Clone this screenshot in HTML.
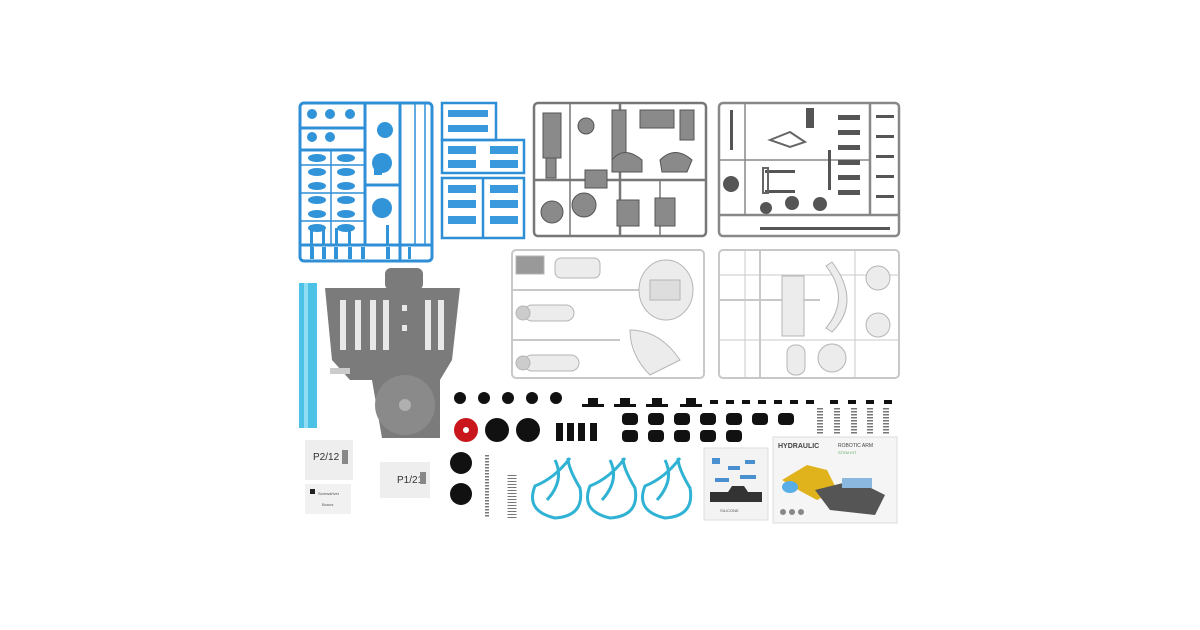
<!DOCTYPE html>
<html><head><meta charset="utf-8"><style>
html,body{margin:0;padding:0;background:#fff;width:1200px;height:630px;overflow:hidden}
svg{display:block}
text{font-family:"Liberation Sans",sans-serif}
</style></head><body>
<svg width="1200" height="630" viewBox="0 0 1200 630" xmlns="http://www.w3.org/2000/svg">
<rect width="1200" height="630" fill="#fff"/>
<!-- Blue sprue 1 -->
<g stroke="#2f8fd6" fill="none" stroke-width="3">
<rect x="300" y="103" width="132" height="158" rx="4"/>
<line x1="300" y1="150" x2="365" y2="150"/><line x1="300" y1="245" x2="432" y2="245"/>
<line x1="365" y1="103" x2="365" y2="245"/><line x1="400" y1="103" x2="400" y2="261"/>
<line x1="365" y1="185" x2="400" y2="185"/><line x1="300" y1="128" x2="365" y2="128"/>
</g>
<g stroke="#2f8fd6" stroke-width="1.5" fill="none">
<line x1="415" y1="103" x2="415" y2="245"/><line x1="425" y1="103" x2="425" y2="245"/>
<line x1="331" y1="150" x2="331" y2="245"/><line x1="300" y1="165" x2="365" y2="165"/><line x1="300" y1="193" x2="365" y2="193"/><line x1="300" y1="221" x2="365" y2="221"/>
</g>
<g fill="#3193d8">
<circle cx="312" cy="114" r="5"/><circle cx="330" cy="114" r="5"/><circle cx="312" cy="137" r="5"/><circle cx="330" cy="137" r="5"/>
<circle cx="350" cy="114" r="5"/><circle cx="385" cy="130" r="8"/>
<circle cx="382" cy="163" r="10"/><circle cx="382" cy="208" r="10"/><rect x="374" y="165" width="8" height="10"/>
<ellipse cx="317" cy="158" rx="9" ry="4"/><ellipse cx="346" cy="158" rx="9" ry="4"/>
<ellipse cx="317" cy="172" rx="9" ry="4"/><ellipse cx="346" cy="172" rx="9" ry="4"/>
<ellipse cx="317" cy="186" rx="9" ry="4"/><ellipse cx="346" cy="186" rx="9" ry="4"/>
<ellipse cx="317" cy="200" rx="9" ry="4"/><ellipse cx="346" cy="200" rx="9" ry="4"/>
<ellipse cx="317" cy="214" rx="9" ry="4"/><ellipse cx="346" cy="214" rx="9" ry="4"/>
<ellipse cx="317" cy="228" rx="9" ry="4"/><ellipse cx="346" cy="228" rx="9" ry="4"/>
<rect x="310" y="247" width="4" height="12"/><rect x="322" y="247" width="4" height="12"/><rect x="334" y="247" width="4" height="12"/><rect x="348" y="247" width="4" height="12"/><rect x="361" y="247" width="4" height="12"/><rect x="386" y="247" width="4" height="12"/><rect x="408" y="247" width="3" height="12"/>
<rect x="310" y="225" width="3" height="22"/><rect x="322" y="228" width="3" height="18"/><rect x="335" y="228" width="3" height="18"/><rect x="348" y="228" width="3" height="18"/><rect x="386" y="225" width="3" height="20"/>
</g>
<!-- Blue sprue 2 -->
<g stroke="#2f8fd6" fill="none" stroke-width="2.5">
<rect x="442" y="103" width="54" height="37"/><rect x="442" y="140" width="82" height="33"/><rect x="442" y="178" width="82" height="60"/>
<line x1="483" y1="178" x2="483" y2="238"/>
</g>
<g fill="#3a98dc">
<rect x="448" y="110" width="40" height="7"/><rect x="448" y="125" width="40" height="7"/>
<rect x="448" y="146" width="28" height="8"/><rect x="490" y="146" width="28" height="8"/><rect x="448" y="160" width="28" height="8"/><rect x="490" y="160" width="28" height="8"/>
<rect x="448" y="185" width="28" height="8"/><rect x="490" y="185" width="28" height="8"/><rect x="448" y="200" width="28" height="8"/><rect x="490" y="200" width="28" height="8"/><rect x="448" y="216" width="28" height="8"/><rect x="490" y="216" width="28" height="8"/>
</g>
<!-- Gray sprue 1 -->
<g stroke="#777" fill="none" stroke-width="2.5">
<rect x="534" y="103" width="172" height="133" rx="4"/>
<line x1="534" y1="180" x2="706" y2="180"/><line x1="620" y1="103" x2="620" y2="236"/>
<line x1="570" y1="103" x2="570" y2="236" stroke-width="1.5"/><line x1="660" y1="180" x2="660" y2="236" stroke-width="1.5"/>
</g>
<g fill="#8a8a8a" stroke="#555" stroke-width="1">
<rect x="543" y="113" width="18" height="45"/><rect x="546" y="158" width="10" height="20"/><circle cx="586" cy="126" r="8"/>
<rect x="612" y="110" width="14" height="50"/><rect x="640" y="110" width="34" height="18"/><rect x="680" y="110" width="14" height="30"/>
<path d="M612 160 q12 -15 30 0 v12 h-30z"/><path d="M660 160 q15 -15 32 0 l-5 12 h-25z"/>
<rect x="585" y="170" width="22" height="18"/>
<circle cx="552" cy="212" r="11"/><circle cx="584" cy="205" r="12"/>
<rect x="617" y="200" width="22" height="26"/><rect x="655" y="198" width="20" height="28"/>
</g>
<!-- Gray sprue 2 -->
<g stroke="#888" fill="none" stroke-width="2.5">
<rect x="719" y="103" width="180" height="133" rx="4"/>
<line x1="719" y1="215" x2="899" y2="215"/><line x1="870" y1="103" x2="870" y2="215"/>
<line x1="745" y1="103" x2="745" y2="215" stroke-width="1.5"/><line x1="719" y1="160" x2="870" y2="160" stroke-width="1.5"/>
</g>
<g fill="#555">
<circle cx="731" cy="184" r="8"/><circle cx="766" cy="208" r="6"/><circle cx="792" cy="203" r="7"/><circle cx="820" cy="204" r="7"/>
<rect x="838" y="115" width="22" height="5"/><rect x="838" y="130" width="22" height="5"/><rect x="838" y="145" width="22" height="5"/><rect x="838" y="160" width="22" height="5"/><rect x="838" y="175" width="22" height="5"/><rect x="838" y="190" width="22" height="5"/>
<rect x="876" y="115" width="18" height="3"/><rect x="876" y="135" width="18" height="3"/><rect x="876" y="155" width="18" height="3"/><rect x="876" y="175" width="18" height="3"/><rect x="876" y="195" width="18" height="3"/>
<rect x="760" y="227" width="130" height="3"/><rect x="765" y="170" width="30" height="3"/><rect x="765" y="190" width="30" height="3"/>
<rect x="828" y="150" width="3" height="40"/><rect x="730" y="110" width="3" height="40"/><rect x="806" y="108" width="8" height="20"/>
</g>
<g fill="none" stroke="#666" stroke-width="2"><path d="M770 140 l20 -8 l15 10 l-15 5z"/><rect x="763" y="168" width="5" height="25"/></g>
<!-- White sprues -->
<g stroke="#c8c8c8" fill="none" stroke-width="2">
<rect x="512" y="250" width="192" height="128" rx="4"/>
<rect x="719" y="250" width="180" height="128" rx="4"/>
<line x1="512" y1="290" x2="640" y2="290"/><line x1="512" y1="340" x2="620" y2="340"/>
<line x1="760" y1="250" x2="760" y2="378"/><line x1="719" y1="300" x2="820" y2="300"/>
<line x1="719" y1="275" x2="899" y2="275" stroke-width="1"/><line x1="719" y1="340" x2="899" y2="340" stroke-width="1"/>
<line x1="745" y1="250" x2="745" y2="378" stroke-width="1"/><line x1="855" y1="250" x2="855" y2="378" stroke-width="1"/>
</g>
<g fill="#ececec" stroke="#b5b5b5" stroke-width="1">
<path d="M516 256 h28 v18 h-28z" fill="#999"/>
<rect x="555" y="258" width="45" height="20" rx="6"/>
<ellipse cx="666" cy="290" rx="27" ry="30"/><rect x="650" y="280" width="30" height="20" fill="#ddd"/>
<rect x="524" y="305" width="50" height="16" rx="8"/><circle cx="523" cy="313" r="7" fill="#ccc"/>
<rect x="524" y="355" width="55" height="16" rx="8"/><circle cx="523" cy="363" r="7" fill="#ccc"/>
<path d="M630 330 q30 0 50 30 l-30 15 q-20 -20 -20 -45z"/>
<rect x="782" y="276" width="22" height="60"/>
<path d="M832 262 q30 40 0 70 l-6 -4 q25 -30 0 -62z"/>
<circle cx="878" cy="278" r="12"/><circle cx="878" cy="325" r="12"/>
<circle cx="832" cy="358" r="14"/><rect x="787" y="345" width="18" height="30" rx="8"/>
</g>
<!-- Blue tube -->
<rect x="299" y="283" width="18" height="145" fill="#4cc1e6"/>
<rect x="304" y="283" width="4" height="145" fill="#8fdcf3"/>
<!-- Big gray base -->
<g fill="#7b7b7b">
<rect x="385" y="268" width="38" height="22" rx="6"/>
<path d="M325 288 H460 L452 360 L440 380 H350 L332 360Z"/>
<path d="M372 380 H440 V438 H382 Z"/>
<circle cx="405" cy="405" r="30" fill="#8a8a8a"/><circle cx="405" cy="405" r="6" fill="#b0b0b0"/>
</g>
<rect x="330" y="368" width="20" height="6" fill="#ccc"/>
<g fill="#e8e8e8">
<rect x="340" y="300" width="6" height="50"/><rect x="355" y="300" width="6" height="50"/><rect x="370" y="300" width="6" height="50"/><rect x="383" y="300" width="6" height="50"/>
<rect x="425" y="300" width="6" height="50"/><rect x="438" y="300" width="6" height="50"/>
<rect x="402" y="305" width="5" height="6"/><rect x="402" y="325" width="5" height="6"/>
</g>
<!-- Bags -->
<rect x="305" y="440" width="48" height="40" fill="#eee"/><text x="313" y="460" font-size="10" fill="#333">P2/12</text><rect x="342" y="450" width="6" height="14" fill="#888"/>
<rect x="305" y="484" width="46" height="30" fill="#f1f1f1"/><rect x="310" y="489" width="5" height="5" fill="#222"/><text x="318" y="495" font-size="4" fill="#555">Screwdriver</text><text x="322" y="506" font-size="4" fill="#555">Bonus</text>
<rect x="380" y="462" width="50" height="36" fill="#eee"/><text x="397" y="483" font-size="10" fill="#333">P1/21</text><rect x="420" y="472" width="6" height="12" fill="#888"/>
<!-- Black parts -->
<g fill="#111">
<circle cx="460" cy="398" r="6"/><circle cx="484" cy="398" r="6"/><circle cx="508" cy="398" r="6"/><circle cx="532" cy="398" r="6"/><circle cx="556" cy="398" r="6"/>
<circle cx="497" cy="430" r="12"/><circle cx="528" cy="430" r="12"/>
<circle cx="461" cy="463" r="11"/><circle cx="461" cy="494" r="11"/>
<rect x="556" y="423" width="7" height="18"/><rect x="567" y="423" width="7" height="18"/><rect x="578" y="423" width="7" height="18"/><rect x="590" y="423" width="7" height="18"/>
<path d="M582 404 h6 v-6 h10 v6 h6 v3 h-22z"/><path d="M614 404 h6 v-6 h10 v6 h6 v3 h-22z"/><path d="M646 404 h6 v-6 h10 v6 h6 v3 h-22z"/><path d="M680 404 h6 v-6 h10 v6 h6 v3 h-22z"/>
<rect x="710" y="400" width="8" height="4"/><rect x="726" y="400" width="8" height="4"/><rect x="742" y="400" width="8" height="4"/><rect x="758" y="400" width="8" height="4"/><rect x="774" y="400" width="8" height="4"/><rect x="790" y="400" width="8" height="4"/><rect x="806" y="400" width="8" height="4"/><rect x="830" y="400" width="8" height="4"/><rect x="848" y="400" width="8" height="4"/><rect x="866" y="400" width="8" height="4"/><rect x="884" y="400" width="8" height="4"/>
<rect x="622" y="413" width="16" height="12" rx="4"/><rect x="648" y="413" width="16" height="12" rx="4"/><rect x="674" y="413" width="16" height="12" rx="4"/><rect x="700" y="413" width="16" height="12" rx="4"/><rect x="726" y="413" width="16" height="12" rx="4"/><rect x="752" y="413" width="16" height="12" rx="4"/><rect x="778" y="413" width="16" height="12" rx="4"/>
<rect x="622" y="430" width="16" height="12" rx="4"/><rect x="648" y="430" width="16" height="12" rx="4"/><rect x="674" y="430" width="16" height="12" rx="4"/><rect x="700" y="430" width="16" height="12" rx="4"/><rect x="726" y="430" width="16" height="12" rx="4"/>
</g>
<circle cx="466" cy="430" r="12" fill="#c8161c"/><circle cx="466" cy="430" r="3" fill="#fff"/>
<!-- Springs -->
<g stroke="#777" stroke-width="2" fill="none" stroke-dasharray="1.5 1.5">
<line x1="487" y1="455" x2="487" y2="518" stroke-width="4"/><line x1="512" y1="475" x2="512" y2="518" stroke-width="9" stroke-dasharray="1 2"/>
<line x1="820" y1="408" x2="820" y2="435" stroke-width="6"/><line x1="837" y1="408" x2="837" y2="435" stroke-width="6"/><line x1="854" y1="408" x2="854" y2="435" stroke-width="6"/><line x1="870" y1="408" x2="870" y2="435" stroke-width="6"/><line x1="886" y1="408" x2="886" y2="435" stroke-width="6"/>
</g>
<!-- Blue tubes -->
<g stroke="#2fb2d3" stroke-width="3" fill="none">
<path d="M570 458 q-15 20 -35 28 q-10 25 20 32 q30 -2 25 -30 q-12 -20 -12 -30 M555 460 q10 20 -8 40"/>
<path d="M625 458 q-15 20 -35 28 q-10 25 20 32 q30 -2 25 -30 q-12 -20 -12 -30 M610 460 q10 20 -8 40"/>
<path d="M680 458 q-15 20 -35 28 q-10 25 20 32 q30 -2 25 -30 q-12 -20 -12 -30 M665 460 q10 20 -8 40"/>
</g>
<!-- Sticker sheet -->
<rect x="704" y="448" width="64" height="72" fill="#f3f3f3" stroke="#ddd"/>
<g fill="#4a8fd0"><rect x="712" y="458" width="8" height="6"/><rect x="728" y="466" width="12" height="4"/><rect x="745" y="460" width="10" height="4"/><rect x="715" y="478" width="14" height="4"/><rect x="740" y="475" width="16" height="4"/></g>
<path d="M710 492 h18 l4 -6 h12 l4 6 h14 v10 h-52z" fill="#333"/>
<text x="720" y="512" font-size="4" fill="#555">SILICONE</text>
<!-- Manual -->
<rect x="773" y="437" width="124" height="86" fill="#f5f5f5" stroke="#ddd"/>
<text x="778" y="448" font-size="7" fill="#444" font-weight="bold">HYDRAULIC</text>
<text x="838" y="447" font-size="5" fill="#444">ROBOTIC ARM</text>
<text x="838" y="454" font-size="4" fill="#6a6">STEM KIT</text>
<path d="M782 480 l25 -15 l20 5 l10 20 l-20 10 l-15 -8z" fill="#e0b31c"/>
<path d="M815 490 l40 -10 l30 15 l-10 20 l-45 -5z" fill="#555"/>
<ellipse cx="790" cy="487" rx="8" ry="6" fill="#5aaee8"/>
<rect x="842" y="478" width="30" height="10" fill="#8ab8de"/>
<g fill="#888"><circle cx="783" cy="512" r="3"/><circle cx="792" cy="512" r="3"/><circle cx="801" cy="512" r="3"/></g>
</svg>
</body></html>
